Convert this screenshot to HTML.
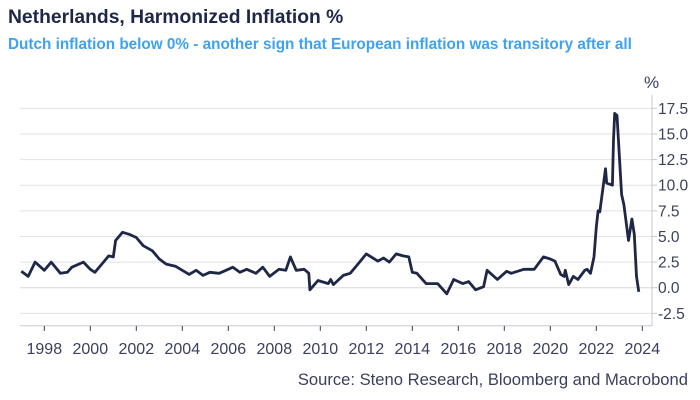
<!DOCTYPE html>
<html><head><meta charset="utf-8"><style>
html,body{margin:0;padding:0;background:#fff;}
body{width:700px;height:400px;overflow:hidden;position:relative;font-family:"Liberation Sans",sans-serif;}
.t{position:absolute;left:8px;top:7px;font-size:19.3px;font-weight:bold;color:#1f2747;white-space:nowrap;}
.s{position:absolute;left:8px;top:36px;font-size:15.3px;font-weight:bold;color:#3ea2f2;white-space:nowrap;}
svg{position:absolute;left:0;top:0;}
</style></head><body>
<div class="t">Netherlands, Harmonized Inflation %</div>
<div class="s">Dutch inflation below 0% - another sign that European inflation was transitory after all</div>
<svg id="c" width="700" height="400"></svg>
<script>
const dates=[1997.0,1997.3,1997.6,1998.0,1998.3,1998.7,1999.0,1999.2,1999.7,2000.0,2000.2,2000.5,2000.8,2001.0,2001.1,2001.4,2001.7,2002.0,2002.3,2002.7,2003.0,2003.3,2003.7,2004.0,2004.3,2004.6,2004.9,2005.2,2005.6,2005.9,2006.2,2006.5,2006.8,2007.2,2007.5,2007.8,2008.2,2008.5,2008.7,2008.95,2009.3,2009.5,2009.55,2009.9,2010.35,2010.45,2010.57,2011.0,2011.3,2011.6,2012.0,2012.5,2012.75,2013.0,2013.3,2013.6,2013.85,2014.0,2014.2,2014.6,2015.1,2015.5,2015.8,2016.2,2016.45,2016.75,2017.1,2017.25,2017.7,2018.1,2018.3,2018.85,2019.3,2019.7,2020.0,2020.2,2020.45,2020.6,2020.65,2020.8,2021.0,2021.2,2021.5,2021.6,2021.75,2021.9,2022.0,2022.08,2022.15,2022.4,2022.45,2022.7,2022.75,2022.8,2022.9,2023.05,2023.1,2023.2,2023.4,2023.55,2023.65,2023.75,2023.85];
const values=[1.6,1.1,2.5,1.7,2.5,1.4,1.5,2.0,2.5,1.8,1.5,2.3,3.1,3.0,4.6,5.4,5.2,4.9,4.1,3.6,2.8,2.3,2.1,1.7,1.3,1.7,1.2,1.5,1.4,1.7,2.0,1.5,1.8,1.4,2.0,1.1,1.8,1.7,3.0,1.7,1.8,1.4,-0.2,0.7,0.4,0.8,0.3,1.2,1.4,2.2,3.3,2.6,2.9,2.5,3.3,3.1,3.0,1.5,1.4,0.4,0.4,-0.6,0.8,0.4,0.6,-0.2,0.1,1.7,0.8,1.6,1.4,1.8,1.8,3.0,2.8,2.6,1.3,1.1,1.7,0.3,1.1,0.8,1.7,1.8,1.4,3.0,5.9,7.5,7.4,11.6,10.2,10.0,14.4,17.0,16.8,11.1,9.1,8.1,4.6,6.7,5.2,1.1,-0.4,-0.9];
const yTicks=[-2.5,0,2.5,5,7.5,10,12.5,15,17.5];
const yLabels=["-2.5","0.0","2.5","5.0","7.5","10.0","12.5","15.0","17.5"];
const xTicks=[1998,2000,2002,2004,2006,2008,2010,2012,2014,2016,2018,2020,2022,2024];
const NS="http://www.w3.org/2000/svg",svg=document.getElementById('c');
const X=y=>44.3+(y-1998)*23, Y=v=>287.7-v*10.25;
function mk(t,a){const e=document.createElementNS(NS,t);for(const k in a)e.setAttribute(k,a[k]);svg.appendChild(e);return e;}
yTicks.forEach((v,i)=>{
 const g=mk('line',{x1:20,x2:652,y1:Y(v),y2:Y(v),stroke:v===0?'#d8d8de':'#e2e2e6','stroke-width':1});
 
 
 const tk=mk('line',{x1:652,x2:657,y1:Y(v),y2:Y(v),stroke:'#c8c8d0'});
 
 
 const t=mk('text',{x:658,y:Y(v)+5.5,'font-size':15.5,fill:'#3a3f5c','font-family':'Liberation Sans, sans-serif'});
 t.textContent=yLabels[i];
 
 
});
const ya=mk('line',{x1:652,x2:652,y1:95,y2:326,stroke:'#c8c8d0'});


const xa=mk('line',{x1:20,x2:652,y1:325.7,y2:325.7,stroke:'#c8c8d0'});


const pu=mk('text',{x:644,y:88,'font-size':17,fill:'#3a3f5c','font-family':'Liberation Sans, sans-serif'});
pu.textContent='%';


xTicks.forEach(yr=>{
 const tk=mk('line',{x1:X(yr),x2:X(yr),y1:326,y2:331,stroke:'#3a3f5c'});
 
 
 const t=mk('text',{x:X(yr),y:354,'font-size':16,fill:'#3a3f5c','text-anchor':'middle','font-family':'Liberation Sans, sans-serif'});
 t.textContent=yr;
 
 
});
const p=mk('polyline',{points:dates.map((d,i)=>X(d).toFixed(1)+','+Y(values[i]).toFixed(1)).join(' '),fill:'none',stroke:'#1f2747','stroke-width':2.8,'stroke-linejoin':'round'});


const src=mk('text',{x:688,y:385,'font-size':16.6,fill:'#3a3f5c','text-anchor':'end','font-family':'Liberation Sans, sans-serif'});
src.textContent='Source: Steno Research, Bloomberg and Macrobond';


</script>
</body></html>
